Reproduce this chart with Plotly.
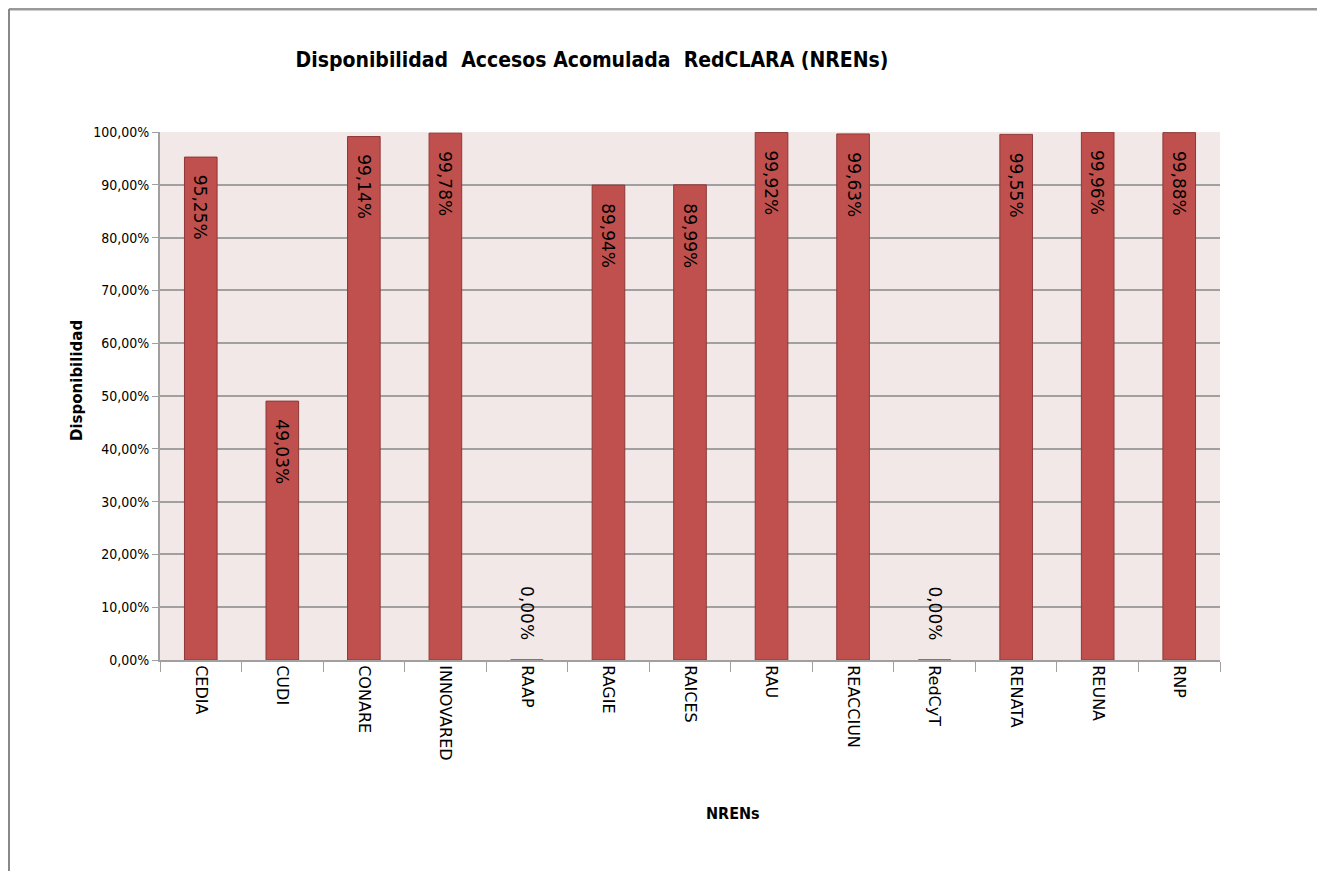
import plotly.graph_objects as go

categories = ["CEDIA", "CUDI", "CONARE", "INNOVARED", "RAAP", "RAGIE", "RAICES",
              "RAU", "REACCIUN", "RedCyT", "RENATA", "REUNA", "RNP"]
values_pct = [95.25, 49.03, 99.14, 99.78, 0.00, 89.94, 89.99,
              99.92, 99.63, 0.00, 99.55, 99.96, 99.88]
y_ticks = [0, 0.1, 0.2, 0.3, 0.4, 0.5, 0.6, 0.7, 0.8, 0.9, 1.0]

values = [v / 100 for v in values_pct]
labels = [f"{v:.2f}%".replace(".", ",") for v in values_pct]

W, H = 1325, 871
OFF = 8  # page body margin
L, R, T, B = 160 - OFF, 1220 - OFF, 132 - OFF, 660 - OFF

NARROW = "DejaVu Sans Condensed, Liberation Sans, Arial"

fig = go.Figure()
fig.add_trace(go.Bar(
    x=categories, y=values,
    marker=dict(color="#c0504d", line=dict(color="#8c3836", width=1)),
    hoverinfo="skip",
))

def px_x(p):
    return (p - OFF - L) / (R - L)

def px_y(p):
    return (B - (p - OFF)) / (B - T)

annotations = [
    dict(text="<b>Disponibilidad</b>", textangle=-90, xref="paper", yref="paper",
         x=px_x(66), y=px_y(381), showarrow=False,
         font=dict(family="DejaVu Sans", size=15)),
    dict(text="<b>NRENs</b>", xref="paper", yref="paper",
         x=px_x(733), y=px_y(825), showarrow=False,
         font=dict(family=NARROW, size=16)),
]
for c, v, lab in zip(categories, values, labels):
    if v > 0:
        annotations.append(dict(text=lab, x=c, y=v, xref="x", yref="y",
                                textangle=90, yanchor="top", yshift=-16,
                                showarrow=False,
                                font=dict(family="DejaVu Sans", size=17, color="black")))
    else:
        annotations.append(dict(text=lab, x=c, y=v, xref="x", yref="y",
                                textangle=90, yanchor="bottom", yshift=18,
                                showarrow=False,
                                font=dict(family="DejaVu Sans", size=17, color="black")))

fig.update_layout(
    width=W, height=H,
    margin=dict(l=L, r=W - R, t=T, b=H - B, autoexpand=False),
    paper_bgcolor="white", plot_bgcolor="#f2e8e8",
    separators=",.",
    bargap=0.6,
    showlegend=False,
    font=dict(family=NARROW, color="black"),
    title=dict(text="<b>Disponibilidad  Accesos Acomulada  RedCLARA (NRENs)</b>",
               x=(592 - OFF) / W, xanchor="center", y=1 - (60 - OFF) / H, yanchor="middle",
               font=dict(family=NARROW, size=21)),
    xaxis=dict(
        tickangle=90, ticks="outside", ticklen=10, tickcolor="#a0a0a0",
        tickson="boundaries", showline=True, linecolor="#a0a0a0", linewidth=2,
        tickfont=dict(family="DejaVu Sans", size=16, color="black"),
        showgrid=False,
    ),
    yaxis=dict(
        range=[0, 1], tickvals=y_ticks, tickformat=".2%",
        ticks="outside", ticklen=6, tickcolor="#a0a0a0",
        showline=True, linecolor="#a0a0a0", linewidth=2,
        showgrid=True, gridcolor="#a0a0a0", gridwidth=2,
        tickfont=dict(family=NARROW, size=14),
        zeroline=False,
    ),
    annotations=annotations,
    shapes=[
        dict(type="line", xref="paper", yref="paper", x0=px_x(9), x1=px_x(1318),
             y0=px_y(9), y1=px_y(9), line=dict(color="#999999", width=3)),
        dict(type="line", xref="paper", yref="paper", x0=px_x(9), x1=px_x(9),
             y0=px_y(9), y1=px_y(875), line=dict(color="#888888", width=2)),
        dict(type="line", xref="paper", yref="paper", x0=px_x(1318), x1=px_x(1318),
             y0=px_y(9), y1=px_y(875), line=dict(color="#888888", width=2)),
    ],
)

fig.write_html("out.html")
